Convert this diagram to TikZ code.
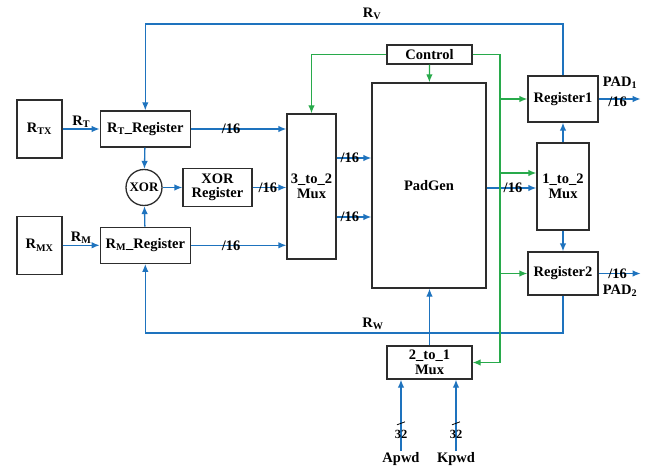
\documentclass[tikz,border=0pt]{standalone}
\usepackage{fontspec}
\setmainfont{Liberation Serif}
\usetikzlibrary{positioning,arrows.meta}
\definecolor{busblue}{RGB}{30,115,190}
\definecolor{ctlgreen}{RGB}{40,170,75}
\definecolor{boxgray}{RGB}{45,45,45}

\begin{document}
\begin{tikzpicture}[x=1pt, y=-1pt, every node/.style={font=\fontsize{14.5}{14.5}\selectfont\bfseries, inner sep=1pt, text=black}, blk/.style={draw=boxgray, line width=1.3pt, align=center}, bus/.style={busblue, line width=1.3pt, -{Latex[length=8pt,width=6.5pt]}}, ctl/.style={ctlgreen, line width=1.3pt, -{Latex[length=8pt,width=6.5pt]}}, wlab/.style={inner sep=0pt}]
\useasboundingbox (0,0) rectangle (645,468);
% inputs and registers
\node[blk, minimum width=45pt, minimum height=58pt] (rtx) at (39.5,129) {R\textsubscript{TX}};
\node[blk, minimum width=45pt, minimum height=58pt, below=57pt of rtx] (rmx) {R\textsubscript{MX}};
\node[blk, minimum width=90pt, minimum height=36pt, right=37pt of rtx] (rtreg) {R\textsubscript{T}\_Register};
\node[blk, minimum width=90pt, minimum height=36pt, right=37pt of rmx] (rmreg) {R\textsubscript{M}\_Register};
\node[draw=boxgray, circle, line width=1.3pt, minimum size=36pt, inner sep=0pt, font=\fontsize{13}{13}\selectfont\bfseries] (xor) at (144,187.5) {XOR};
\node[blk, minimum width=69pt, minimum height=38pt] (xorreg) at (217.5,187.5) {XOR\\Register};
\node[blk, minimum width=49pt, minimum height=145pt] (mux32) at (311.5,186.5) {3\_to\_2\\Mux};
\node[blk, minimum width=114pt, minimum height=205pt] (padgen) at (429,185.5) {PadGen};
\node[blk, minimum width=85pt, minimum height=19pt] (control) at (429.5,54.5) {Control};
\node[blk, minimum width=70pt, minimum height=46pt] (reg1) at (563,99) {Register1};
\node[blk, minimum width=52pt, minimum height=87pt] (mux12) at (563,186.5) {1\_to\_2\\Mux};
\node[blk, minimum width=70pt, minimum height=43pt] (reg2) at (563,273.5) {Register2};
\node[blk, minimum width=85pt, minimum height=33pt] (mux21) at (429.5,362.5) {2\_to\_1\\Mux};
\node (apwd) at (401,459) {Apwd};
\node (kpwd) at (456,459) {Kpwd};
\node (rv) at (372,14) {R\textsubscript{V}};
\node (rw) at (373,324) {R\textsubscript{W}};
\node (pad1lab) at (620,83) {PAD\textsubscript{1}};
\node (pad2lab) at (620,291) {PAD\textsubscript{2}};
\coordinate (gbus) at (500,54.5);
\coordinate[right=42pt of reg1.east] (pad1);
\coordinate[right=42pt of reg2.east] (pad2);
% data paths
\draw[bus] (rtx) -- node[above=1pt, wlab] {R\textsubscript{T}} (rtreg);
\draw[bus] (rmx) -- node[above=1pt, wlab] {R\textsubscript{M}} (rmreg);
\draw[bus] (rtreg) -- (xor); \draw[bus] (rmreg) -- (xor); \draw[bus] (xor) -- (xorreg);
\draw[bus] (rtreg.east) -- node[wlab, pos=0.42] {/16} (rtreg.east -| mux32.west);
\draw[bus] (xorreg.east) -- node[wlab, pos=0.45] {/16} (xorreg.east -| mux32.west);
\draw[bus] (rmreg.east) -- node[wlab, pos=0.42] {/16} (rmreg.east -| mux32.west);
\draw[bus] (mux32.east |- 0,158) -- node[wlab, pos=0.38] {/16} (padgen.west |- 0,158);
\draw[bus] (mux32.east |- 0,217) -- node[wlab, pos=0.38] {/16} (padgen.west |- 0,217);
\draw[bus] (padgen.east |- 0,188) -- node[wlab, pos=0.53] {/16} (mux12.west |- 0,188);
\draw[bus] (mux12) -- (reg1); \draw[bus] (mux12) -- (reg2);
\draw[bus] (reg1.east) -- node[wlab, pos=0.45, yshift=-3pt] {/16} (pad1);
\draw[bus] (reg2.east) -- node[wlab, pos=0.45] {/16} (pad2);
\draw[bus] (reg1.north) -- (reg1.north |- 0,24) -| (rtreg.north);
\draw[bus] (reg2.south) -- (reg2.south |- 0,333) -| (rmreg.south);
\draw[bus] (mux21.north) -- (mux21.north |- padgen.south);
\draw[bus] (apwd.north) -- coordinate[pos=0.39] (aslash) (apwd.north |- mux21.south);
\draw[bus] (kpwd.north) -- coordinate[pos=0.39] (kslash) (kpwd.north |- mux21.south);
\node[font=\fontsize{12.5}{12.5}\selectfont\bfseries] (a32) at (401,434) {32};
\node[font=\fontsize{12.5}{12.5}\selectfont\bfseries] (k32) at (456,434) {32};
\draw[line width=0.8pt] ([shift={(-4pt,-1.5pt)}]aslash) -- ([shift={(4pt,1.5pt)}]aslash);
\draw[line width=0.8pt] ([shift={(-4pt,-1.5pt)}]kslash) -- ([shift={(4pt,1.5pt)}]kslash);
% control paths
\draw[ctl] (control) -- (padgen);
\draw[ctl] (control.west) -| (mux32.north);
\draw[ctl] (control.east) -| (gbus |- mux21.east) -- (mux21.east);
\draw[ctl] (gbus |- reg1.west) -- (reg1.west);
\draw[ctl] (gbus |- 0,173) -- (mux12.west |- 0,173);
\draw[ctl] (gbus |- reg2.west) -- (reg2.west);
\end{tikzpicture}
\end{document}
